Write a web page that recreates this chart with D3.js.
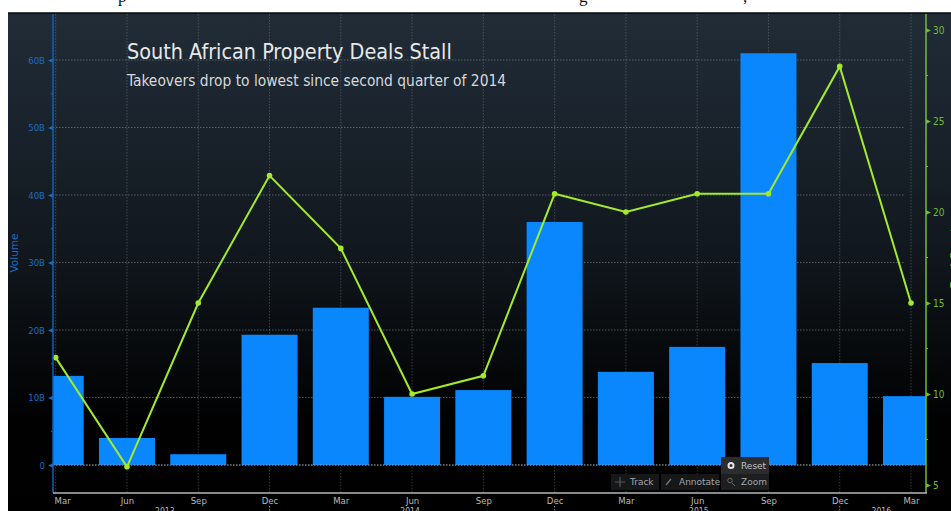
<!DOCTYPE html>
<html>
<head>
<meta charset="utf-8">
<script src="https://cdn.jsdelivr.net/npm/d3@7/dist/d3.min.js"></script>
<style>
html, body { margin: 0; padding: 0; background: #fff; overflow: hidden; }
svg { display: block; }
text { font-family: "DejaVu Sans", sans-serif; }
</style>
</head>
<body>
<svg id="chart" width="951" height="511"></svg>
<script>
// Quarterly South African property takeovers
const quarters = ["Mar","Jun","Sep","Dec","Mar","Jun","Sep","Dec","Mar","Jun","Sep","Dec","Mar"];
const volume = [13.2, 4, 1.6, 19.3, 23.3, 10.1, 11.1, 36, 13.8, 17.5, 61, 15.1, 10.2];
const dealCount = [12, 6, 15, 22, 18, 10, 11, 21, 20, 21, 21, 28, 15];
const volumeTicks = [0, 10, 20, 30, 40, 50, 60];
const volumeMinorTicks = [5, 15, 25, 35, 45, 55];
const dealTicks = [5, 10, 15, 20, 25, 30];
const dealMinorTicks = [7.5, 12.5, 17.5, 22.5, 27.5];
const years = [["2013", 1.53], ["2014", 4.97], ["2015", 9.02], ["2016", 11.58]];
const yearBreaks = [3, 7, 11];

const narrow = "DejaVu Sans Condensed, DejaVu Sans";
const svg = d3.select("#chart");
const frame = { left: 8, top: 13, right: 951, bottom: 511 };
const plot = { left: 53, right: 926, top: 14, bottom: 493 };

const defs = svg.append("defs");
const grad = defs.append("linearGradient").attr("id", "panel")
  .attr("x1", 0).attr("x2", 0).attr("y1", 0).attr("y2", 1);
[[0, "#212c37"], [0.25, "#19222b"], [0.5, "#10161c"], [0.72, "#050709"], [0.82, "#010102"], [1, "#000"]]
  .forEach(([o, c]) => grad.append("stop").attr("offset", o).attr("stop-color", c));
defs.append("clipPath").attr("id", "plotClip").append("rect")
  .attr("x", plot.left).attr("y", plot.top)
  .attr("width", plot.right - plot.left).attr("height", plot.bottom - plot.top);

svg.append("rect").attr("x", frame.left).attr("y", frame.top)
  .attr("width", frame.right - frame.left).attr("height", frame.bottom - frame.top)
  .attr("fill", "url(#panel)");
svg.append("line").attr("x1", frame.left).attr("x2", frame.right)
  .attr("y1", frame.top).attr("y2", frame.top).attr("stroke", "#05070a").attr("stroke-width", 1.5);

// Descenders of the article sentence running above the panel
const aboveText = svg.append("g").attr("font-size", 17).attr("fill", "#111");
[["p", 118], ["g", 579], [",", 743]].forEach(([s, x]) =>
  aboveText.append("text").attr("x", x).attr("y", 2).style("font-family", "Liberation Serif").text(s));

const x = d3.scalePoint().domain(d3.range(quarters.length)).range([55.7, 911]);
const yVol = d3.scaleLinear().domain([0, 60]).range([465, 60]);
const yDeals = d3.scaleLinear().domain([5, 30]).range([485, 30]);
const barWidth = 56;

// Dotted grid
const grid = svg.append("g").attr("fill", "none").attr("stroke", "#8c949b")
  .attr("stroke-dasharray", "1.5 1.5");
grid.selectAll(".h").data(volumeTicks).join("line").attr("class", "h")
  .attr("stroke-opacity", 0.55)
  .attr("x1", plot.left).attr("x2", 905)
  .attr("y1", d => yVol(d)).attr("y2", d => yVol(d));
grid.selectAll(".v").data(d3.range(quarters.length)).join("line").attr("class", "v")
  .attr("stroke-opacity", 0.38)
  .attr("x1", i => x(i)).attr("x2", i => x(i))
  .attr("y1", plot.top).attr("y2", plot.bottom);

// Volume bars
svg.append("g").attr("clip-path", "url(#plotClip)").selectAll("rect").data(volume).join("rect")
  .attr("x", (d, i) => x(i) - barWidth / 2)
  .attr("width", barWidth)
  .attr("y", d => yVol(d))
  .attr("height", d => yVol(0) - yVol(d))
  .attr("fill", "#0a87fd");

// Zero line sits over the bars
svg.append("line").attr("x1", plot.left).attr("x2", plot.right)
  .attr("y1", yVol(0)).attr("y2", yVol(0))
  .attr("stroke", "#8c949b").attr("stroke-dasharray", "1.5 1.5");

// Deal count line
const line = d3.line().x((d, i) => x(i)).y(d => yDeals(d));
const lime = "#a2ea2b";
svg.append("path").datum(dealCount).attr("d", line)
  .attr("fill", "none").attr("stroke", lime).attr("stroke-width", 2);
svg.append("g").selectAll("circle").data(dealCount).join("circle")
  .attr("cx", (d, i) => x(i)).attr("cy", d => yDeals(d)).attr("r", 2.8).attr("fill", lime);

// Left axis
const blue = "#1a6cc4";
const leftAxis = svg.append("g").attr("transform", `translate(${plot.left},0)`)
  .call(d3.axisLeft(yVol).tickValues(volumeTicks).tickSize(0).tickPadding(8)
    .tickFormat(d => d === 0 ? "0" : d + "B"));
leftAxis.select(".domain").remove();
leftAxis.selectAll("text").attr("fill", blue).attr("font-size", 9.5).style("font-family", narrow);
leftAxis.selectAll(".tick").append("path").attr("d", "M-5,0L0,-2.2L0,2.2Z").attr("fill", blue);
leftAxis.selectAll(".minor").data(volumeMinorTicks).join("line").attr("class", "minor")
  .attr("x1", -2).attr("x2", 0).attr("y1", d => yVol(d)).attr("y2", d => yVol(d)).attr("stroke", blue);
svg.append("line").attr("x1", plot.left).attr("x2", plot.left).attr("y1", plot.top).attr("y2", plot.bottom)
  .attr("stroke", "#0d62b8").attr("stroke-width", 1.5);
svg.append("text").attr("transform", "translate(18,253) rotate(-90)").attr("text-anchor", "middle")
  .attr("fill", blue).attr("font-size", 10.5).text("Volume");

// Right axis
const green = "#6cbf30";
const rightAxis = svg.append("g").attr("transform", `translate(${plot.right},0)`)
  .call(d3.axisRight(yDeals).tickValues(dealTicks).tickSize(0).tickPadding(7).tickFormat(d3.format("d")));
rightAxis.select(".domain").remove();
rightAxis.selectAll("text").attr("fill", green).attr("font-size", 10).style("font-family", narrow);
rightAxis.selectAll(".tick").append("path").attr("d", "M5,0L0,-2.2L0,2.2Z").attr("fill", green);
rightAxis.selectAll(".minor").data(dealMinorTicks).join("line").attr("class", "minor")
  .attr("x1", 0).attr("x2", 2).attr("y1", d => yDeals(d)).attr("y2", d => yDeals(d)).attr("stroke", green);
svg.append("line").attr("x1", plot.right).attr("x2", plot.right).attr("y1", plot.top).attr("y2", plot.bottom)
  .attr("stroke", green).attr("stroke-width", 1.5);
svg.append("text").attr("transform", "translate(958,258) rotate(-90)").attr("text-anchor", "middle")
  .attr("fill", green).attr("font-size", 11).text("Deal Count");

// Time axis
svg.append("line").attr("x1", plot.left).attr("x2", plot.right + 1).attr("y1", plot.bottom).attr("y2", plot.bottom)
  .attr("stroke", "#b4b6b8").attr("stroke-width", 1.5);
const bottomAxis = svg.append("g").attr("transform", `translate(0,${plot.bottom})`)
  .call(d3.axisBottom(x).tickSize(0).tickPadding(4).tickFormat(i => quarters[i]));
bottomAxis.select(".domain").remove();
bottomAxis.selectAll("text").attr("fill", "#b9bbbd").attr("font-size", 9.5).style("font-family", narrow);
// The first month label starts at the axis so it stays inside the panel
bottomAxis.selectAll("text").filter(i => i === 0).attr("text-anchor", "start").attr("x", -1.7);
svg.append("g").selectAll("line").data(yearBreaks).join("line")
  .attr("x1", i => x(i)).attr("x2", i => x(i)).attr("y1", 506).attr("y2", 511)
  .attr("stroke", "#8c949b").attr("stroke-dasharray", "1.5 1.5");
svg.append("g").selectAll("text").data(years).join("text")
  .attr("x", d => 55.7 + d[1] * 71.3).attr("y", 514)
  .attr("text-anchor", "middle").attr("fill", "#b9bbbd").attr("font-size", 8.5)
  .style("font-family", narrow).text(d => d[0]);

// Headline
svg.append("text").attr("x", 127).attr("y", 59).attr("fill", "#e6e8ea").attr("font-size", 21.4)
  .style("font-family", narrow).text("South African Property Deals Stall");
svg.append("text").attr("x", 127).attr("y", 86).attr("fill", "#d5d8db").attr("font-size", 15.4)
  .style("font-family", narrow).text("Takeovers drop to lowest since second quarter of 2014");

// Chart toolbar
const toolbar = svg.append("g").style("font-family", narrow)
  .attr("font-size", 9).attr("fill", "#a3a5a7");
toolbar.append("rect").attr("x", 721).attr("y", 457).attr("width", 48).attr("height", 17).attr("fill", "#2b2c2e");
toolbar.append("rect").attr("x", 611).attr("y", 474).attr("width", 48).attr("height", 16).attr("fill", "#161718");
toolbar.append("rect").attr("x", 661).attr("y", 474).attr("width", 58).attr("height", 16).attr("fill", "#161718");
toolbar.append("rect").attr("x", 721).attr("y", 474).attr("width", 48).attr("height", 16).attr("fill", "#1d1e1f");
toolbar.append("circle").attr("cx", 731).attr("cy", 465.5).attr("r", 2.5).attr("fill", "none").attr("stroke", "#e4e4e4").attr("stroke-width", 2);
toolbar.append("text").attr("x", 741).attr("y", 468.5).attr("fill", "#bdbfc1").text("Reset");
toolbar.append("path").attr("d", "M615,482H625M620,477V487").attr("stroke", "#55575a").attr("stroke-width", 1.2);
toolbar.append("text").attr("x", 630).attr("y", 485).text("Track");
toolbar.append("path").attr("d", "M666,485L671,479").attr("stroke", "#77797b").attr("stroke-width", 1.2);
toolbar.append("text").attr("x", 679).attr("y", 485).text("Annotate");
toolbar.append("circle").attr("cx", 730).attr("cy", 480.5).attr("r", 2.3).attr("fill", "none").attr("stroke", "#66686a");
toolbar.append("path").attr("d", "M732,483L735,486").attr("stroke", "#66686a");
toolbar.append("text").attr("x", 741).attr("y", 485).text("Zoom");
</script>
</body>
</html>
